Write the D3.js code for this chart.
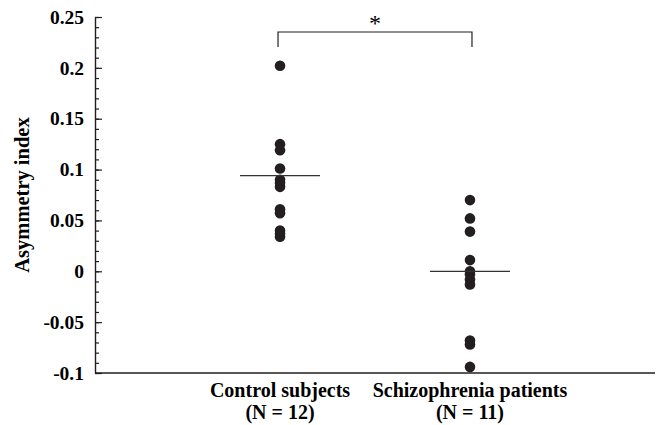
<!DOCTYPE html>
<html>
<head>
<meta charset="utf-8">
<script src="https://cdn.jsdelivr.net/npm/d3@7"></script>
<style>
  body { margin: 0; background: #fff; }
  text { font-family: "Liberation Serif", "Times New Roman", serif; }
</style>
</head>
<body>
<svg width="659" height="425"></svg>
<script>
var groups = ["Control subjects", "Schizophrenia patients"];
var groupN = ["(N = 12)", "(N = 11)"];
var control = [0.202, 0.125, 0.119, 0.101, 0.090, 0.087, 0.083, 0.061, 0.057, 0.040, 0.037, 0.034];
var patients = [0.070, 0.052, 0.039, 0.011, 0.000, -0.003, -0.008, -0.013, -0.068, -0.072, -0.094];
var medians = [0.094, 0.0];
var yTicks = [-0.1, -0.05, 0, 0.05, 0.1, 0.15, 0.2, 0.25];
var yTickLabels = ["-0.1", "-0.05", "0", "0.05", "0.1", "0.15", "0.2", "0.25"];

var svg = d3.select("svg");
var ink = "#231f20";

var y = d3.scaleLinear().domain([-0.1, 0.25]).range([373, 17]);
var x = d3.scalePoint().domain(groups).range([95, 655]).padding(0.974);

// minor ticks
var minor = d3.range(-10, 26).map(d => d / 100);
svg.append("g")
  .attr("transform", "translate(95,0)")
  .call(d3.axisLeft(y).tickValues(minor).tickSize(-4).tickFormat(""))
  .call(g => g.select(".domain").remove())
  .selectAll("line").attr("stroke", ink).attr("stroke-width", 1.2);

// major ticks + labels
svg.append("g")
  .attr("transform", "translate(95,0)")
  .call(d3.axisLeft(y).tickValues(yTicks).tickSize(-7).tickSizeOuter(0).tickPadding(11)
    .tickFormat((d, i) => yTickLabels[i]))
  .call(g => g.select(".domain").attr("stroke", ink).attr("stroke-width", 1.4))
  .call(g => g.selectAll("line").attr("stroke", ink).attr("stroke-width", 1.2))
  .selectAll("text")
    .attr("fill", "#000")
    .style("font-size", "19.5px")
    .style("font-weight", "bold")
    .style("font-family", "'Liberation Serif', serif");

// x axis line
svg.append("line")
  .attr("x1", 95).attr("x2", 655)
  .attr("y1", y(-0.1)).attr("y2", y(-0.1))
  .attr("stroke", ink).attr("stroke-width", 1.5);

// y title
svg.append("text")
  .attr("transform", "translate(29," + y(0.075) + ") rotate(-90)")
  .attr("text-anchor", "middle")
  .style("font-size", "20.5px")
  .style("font-weight", "bold")
  .text("Asymmetry index");

// category labels
groups.forEach((g, i) => {
  svg.append("text")
    .attr("x", x(g)).attr("y", 397)
    .attr("text-anchor", "middle")
    .style("font-size", "20px").style("font-weight", "bold")
    .text(g);
  svg.append("text")
    .attr("x", x(g)).attr("y", 419)
    .attr("text-anchor", "middle")
    .style("font-size", "20px").style("font-weight", "bold")
    .text(groupN[i]);
});

// points
[control, patients].forEach((vals, i) => {
  svg.append("g").selectAll("circle").data(vals).enter()
    .append("circle")
      .attr("cx", x(groups[i]))
      .attr("cy", d => y(d))
      .attr("r", 5.3)
      .attr("fill", ink);
});

// median lines
medians.forEach((m, i) => {
  svg.append("line")
    .attr("x1", x(groups[i]) - 40).attr("x2", x(groups[i]) + 40)
    .attr("y1", y(m)).attr("y2", y(m))
    .attr("stroke", "#333").attr("stroke-width", 1.3);
});

// significance bracket
var bx1 = x(groups[0]) - 2, bx2 = x(groups[1]) + 2;
svg.append("path")
  .attr("d", `M${bx1},47V32H${bx2}V47`)
  .attr("fill", "none").attr("stroke", ink).attr("stroke-width", 1.2);
svg.append("text")
  .attr("x", (bx1 + bx2) / 2).attr("y", 31)
  .attr("text-anchor", "middle")
  .style("font-size", "24px")
  .text("*");
</script>
</body>
</html>
